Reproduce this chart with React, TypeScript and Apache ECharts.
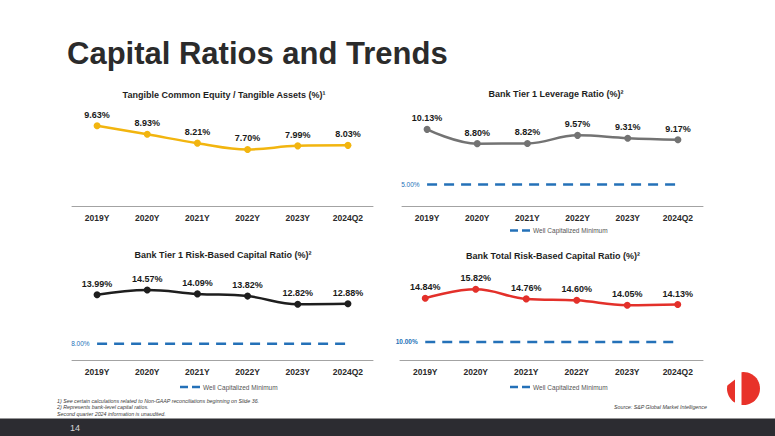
import React, { useEffect, useRef } from "react";
import * as echarts from "echarts";

const categories = ["2019Y", "2020Y", "2021Y", "2022Y", "2023Y", "2024Q2"];
const tceValues = [9.63, 8.93, 8.21, 7.7, 7.99, 8.03];
const leverageValues = [10.13, 8.8, 8.82, 9.57, 9.31, 9.17];
const tier1RbcValues = [13.99, 14.57, 14.09, 13.82, 12.82, 12.88];
const totalRbcValues = [14.84, 15.82, 14.76, 14.6, 14.05, 14.13];
const leverageMinimum = 5;
const tier1Minimum = 8;
const totalMinimum = 10;
const minimumName = "Well Capitalized Minimum";

const pageTitle = "Capital Ratios and Trends";
const panelTitles = [
  "Tangible Common Equity / Tangible Assets (%)¹",
  "Bank Tier 1 Leverage Ratio (%)²",
  "Bank Tier 1 Risk-Based Capital Ratio (%)²",
  "Bank Total Risk-Based Capital Ratio (%)²",
];
const footnotes = [
  "1) See certain calculations related to Non-GAAP reconciliations beginning on Slide 36.",
  "2) Represents bank-level capital ratios.",
  "Second quarter 2024 information is unaudited.",
];
const sourceText = "Source: S&P Global Market Intelligence";
const pageNumber = "14";

const FONT = '"Liberation Sans", Arial, Helvetica, sans-serif';
const BLUE = "#2471B8";

const panels = [
  { values: tceValues, minimum: null as number | null, color: "#F2B50F", left: 72, width: 301, top: 107.6, height: 98.4, ymin: 3.1, ymax: 11.1, titleX: 224, titleY: 95, legend: null as null | { left: number; top: number }, minLabelBold: false },
  { values: leverageValues, minimum: leverageMinimum, color: "#737373", left: 402, width: 301, top: 120, height: 86, ymin: 3, ymax: 11, titleX: 556, titleY: 94, legend: { left: 505, top: 222 }, minLabelBold: false },
  { values: tier1RbcValues, minimum: tier1Minimum, color: "#1E1E1E", left: 72, width: 301, top: 270.1, height: 89.9, ymin: 6, ymax: 17, titleX: 223, titleY: 255, legend: { left: 175, top: 378.5 }, minLabelBold: false },
  { values: totalRbcValues, minimum: totalMinimum, color: "#E3302A", left: 400, width: 303, top: 269.6, height: 90.4, ymin: 8, ymax: 18, titleX: 553, titleY: 255.5, legend: { left: 505, top: 378.5 }, minLabelBold: true },
];

export default function App() {
  const ref = useRef<HTMLDivElement>(null);

  useEffect(() => {
    document.body.style.margin = "0";
    if (!ref.current) return;
    const chart = echarts.init(ref.current, null, { renderer: "svg" });

    const grids: any[] = [];
    const xAxes: any[] = [];
    const yAxes: any[] = [];
    const series: any[] = [];
    const legends: any[] = [];

    panels.forEach((p, i) => {
      grids.push({ left: p.left, top: p.top, width: p.width, height: p.height, outerBoundsMode: "none", containLabel: false });
      xAxes.push({
        type: "category",
        gridIndex: i,
        data: categories,
        boundaryGap: true,
        axisLine: { show: true, lineStyle: { color: "#A3A3A3", width: 1 } },
        axisTick: { show: false },
        axisLabel: { color: "#2A2A2A", fontWeight: "bold", fontSize: 8.5, fontFamily: FONT, margin: 7 },
      });
      yAxes.push({ type: "value", gridIndex: i, min: p.ymin, max: p.ymax, show: false, splitLine: { show: false } });
      series.push({
        type: "line",
        name: "series" + i,
        xAxisIndex: i,
        yAxisIndex: i,
        data: p.values,
        smooth: 0.4,
        symbol: "circle",
        symbolSize: 7,
        lineStyle: { color: p.color, width: 2.5 },
        itemStyle: { color: p.color },
        label: {
          show: true,
          position: "top",
          distance: 3,
          color: "#1A1A1A",
          fontWeight: "bold",
          fontSize: 9,
          fontFamily: FONT,
          formatter: (d: any) => `${Number(d.value).toFixed(2)}%`,
        },
        z: 3,
      });
      if (p.minimum !== null) {
        const m = p.minimum;
        series.push({
          type: "line",
          name: minimumName,
          xAxisIndex: i,
          yAxisIndex: i,
          symbol: "none",
          data: categories.map(() => m),
          lineStyle: { color: BLUE, width: 2.5, type: [10, 7] },
          itemStyle: { color: BLUE },
          markPoint: {
            symbol: "circle",
            symbolSize: 1,
            itemStyle: { color: "rgba(0,0,0,0)" },
            data: [{ coord: [0, m], value: m }],
            label: {
              show: true,
              position: "left",
              distance: 7,
              color: BLUE,
              fontSize: 6.5,
              fontWeight: p.minLabelBold ? "bold" : "normal",
              fontFamily: FONT,
              formatter: `${m.toFixed(2)}%`,
            },
          },
          z: 2,
        });
      }
      if (p.legend) {
        legends.push({
          show: true,
          left: p.legend.left,
          top: p.legend.top,
          data: [{ name: minimumName, icon: "path://M0,0 L8,0 L8,2.5 L0,2.5 Z M12,0 L20,0 L20,2.5 L12,2.5 Z" }],
          selectedMode: false,
          itemWidth: 20,
          itemHeight: 2.5,
          itemGap: 5,
          itemStyle: { color: BLUE },
          textStyle: { color: "#555", fontSize: 6.5, fontFamily: FONT, padding: [0, 0, 0, -2] },
        });
      }
    });

    const graphic: any[] = [
      {
        type: "text",
        x: 67,
        y: 53,
        style: { text: pageTitle, fill: "#2B2B2B", fontSize: 31, fontWeight: "bold", fontFamily: FONT, textAlign: "left", textVerticalAlign: "middle" },
      },
      ...panels.map((p, i) => ({
        type: "text",
        x: p.titleX,
        y: p.titleY,
        style: { text: panelTitles[i], fill: "#1E1E1E", fontSize: 9, fontWeight: "bold", fontFamily: FONT, textAlign: "center", textVerticalAlign: "middle" },
      })),
      ...footnotes.map((t, i) => ({
        type: "text",
        x: 57,
        y: 401 + i * 6.3,
        style: { text: t, fill: "#3A3A3A", fontSize: 5.3, fontStyle: "italic", fontFamily: FONT, textAlign: "left", textVerticalAlign: "middle" },
      })),
      {
        type: "text",
        x: 614,
        y: 407,
        style: { text: sourceText, fill: "#3A3A3A", fontSize: 5.3, fontStyle: "italic", fontFamily: FONT, textAlign: "left", textVerticalAlign: "middle" },
      },
      { type: "rect", shape: { x: 0, y: 418.5, width: 775, height: 18 }, style: { fill: "#2C2C31" } },
      {
        type: "text",
        x: 70,
        y: 428,
        style: { text: pageNumber, fill: "#D8D8D8", fontSize: 9, fontFamily: FONT, textAlign: "left", textVerticalAlign: "middle" },
      },
      { type: "circle", shape: { cx: 743.5, cy: 388.5, r: 16.5 }, style: { fill: "#E8322A" } },
      {
        type: "polygon",
        shape: {
          points: [
            [735, 370],
            [741.5, 370],
            [741.5, 407],
            [735, 407],
            [735, 379.5],
            [726, 386.5],
            [726, 375],
            [731, 370],
          ],
        },
        style: { fill: "#FFFFFF" },
      },
    ];

    chart.setOption({
      animation: false,
      backgroundColor: "#FFFFFF",
      grid: grids,
      xAxis: xAxes,
      yAxis: yAxes,
      legend: legends,
      series,
      graphic,
    });

    return () => {
      chart.dispose();
    };
  }, []);

  return <div ref={ref} style={{ width: 775, height: 436, position: "absolute", left: 0, top: 0 }} />;
}
